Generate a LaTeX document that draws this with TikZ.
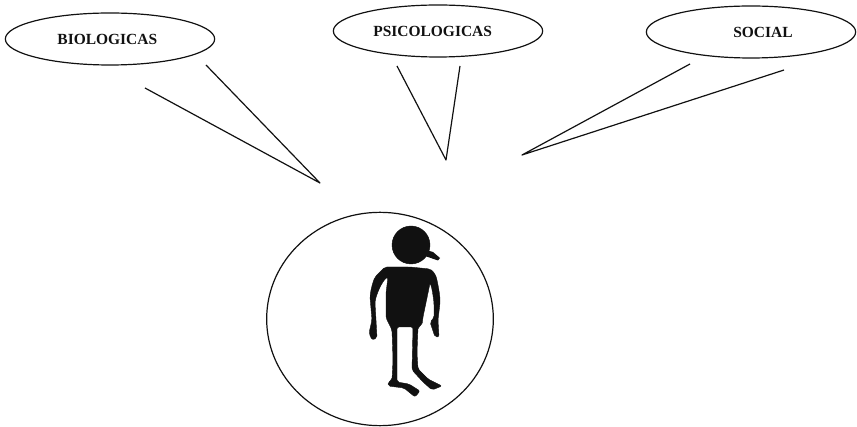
\documentclass[tikz,border=0pt]{standalone}
\usepackage{fontspec}
\setmainfont{Liberation Serif}
\usetikzlibrary{shapes.geometric}
\definecolor{Ink}{HTML}{111111}

\begin{document}
\begin{tikzpicture}[x=.75pt,y=-.75pt,font=\bfseries\fontsize{11.6}{13}\selectfont,text=Ink,
 factor/.style={draw=Ink,ellipse,line width=.9pt,inner sep=0pt,minimum width=157pt,minimum height=39pt},
 ray/.style={line width=.9pt,draw=Ink,line join=round},
 sil/.style={fill=Ink,draw=Ink,line width=.3pt,line join=round,rounded corners=1.5pt}]
 \useasboundingbox (0,0) rectangle (857,427);
 \node[factor] (bio) at (110,39) {\hspace*{-4pt}BIOLOGICAS};
 \node[factor] (psi) at (438,31) {\hspace*{-8pt}PSICOLOGICAS};
 \node[factor] (soc) at (751,32) {\hspace*{18pt}SOCIAL};
 \node[draw=Ink,ellipse,line width=.9pt,inner sep=0pt,minimum width=170pt,minimum height=160pt] (person) at (380,319) {};
 % tips of the rays
 \coordinate (biotip) at (320,183);
 \coordinate (psitip) at (446,160);
 \coordinate (soctip) at (522,155);
 \coordinate (bioa) at (145,88);
 \coordinate (biob) at (206,65);
 \coordinate (psia) at (397,66);
 \coordinate (psib) at (460,66);
 \coordinate (soca) at (690,64);
 \coordinate (socb) at (784,70);
 \draw[ray] (bioa) -- (biotip) -- (biob);
 \draw[ray] (psia) -- (psitip) -- (psib);
 \draw[ray] (soca) -- (soctip) -- (socb);
 % the figure
 \node[sil,circle,inner sep=0pt,minimum size=28.5pt] (head) at (411,245) {};
 \fill[Ink] (426,250) -- (433,252) -- (440,258) -- (438,260.5) -- (425,256) -- cycle;
 \filldraw[sil] (385,267) -- (410,267) -- (430,269) .. controls (434,272) and (436,276) .. (437,280)
  .. controls (439,290) and (440,296) .. (440,303) -- (438,320) -- (439,337) -- (435,337) -- (430,322) -- (434,318)
  -- (434,303) .. controls (433,295) and (432,288) .. (430,283) -- (428,293) -- (423,317) -- (422,325)
  -- (418,327) -- (417,353) -- (418,369) -- (428,379) -- (442,386) -- (432,390) -- (423,382) -- (412,370)
  -- (413,327) -- (397,327) -- (397,370) -- (397,382) -- (409,384) -- (420,391) -- (415,397) -- (404,388)
  -- (388,386) -- (388,382) -- (392,380) -- (393,360) -- (392,330) -- (386,318) -- (386,293) -- (388,277)
  .. controls (382,281) and (376,295) .. (375,303) -- (376,320) -- (377,338) -- (372,340) -- (369,333) -- (372,320)
  -- (370,297) .. controls (371,288) and (373,282) .. (375,277) -- cycle;
\end{tikzpicture}
\end{document}
